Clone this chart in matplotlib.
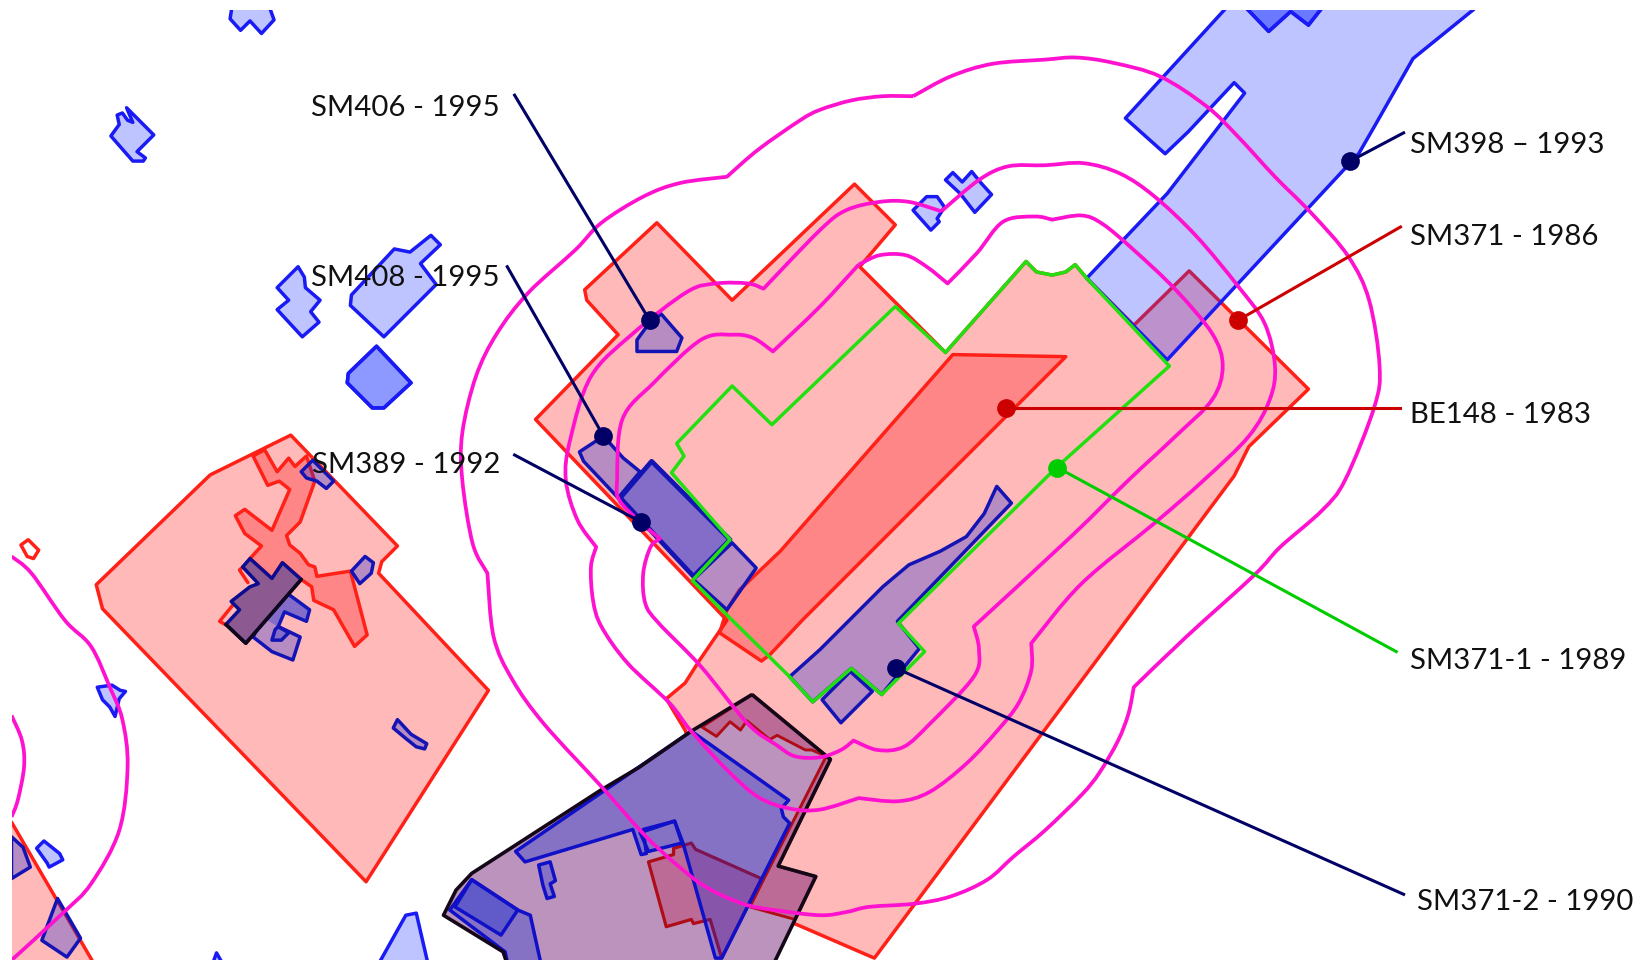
"""Site map: overlapping permit areas, contour lines and labelled leaders."""

import matplotlib
matplotlib.use("Agg")
import matplotlib.pyplot as plt
from matplotlib.patches import PathPatch
from matplotlib.path import Path

plt.rcParams["font.family"] = ["Lato", "DejaVu Sans"]

# Map geometry (x, y in picture units, y going down)
RED_AREAS = [
    [(628, 213), (559, 277), (561, 287), (591, 320), (512, 401), (695, 593), (669, 631), (655, 653),
     (637, 668), (655, 698), (717, 867), (762, 884), (836, 916), (1180, 455), (1194, 427), (1251, 372),
     (1137, 259), (1084, 311), (1039, 266), (1028, 253), (1019, 260), (1006, 263), (991, 260), (981, 250),
     (904, 337), (822, 255), (856, 215), (817, 176), (700, 287)],
    [(278, 416), (201, 454), (92, 559), (98, 582), (350, 843), (467, 660), (362, 548), (365, 537), (380, 522)],
    [(11, 786), (92, 925), (0, 925), (0, 786)],
]
RED_DARK_AREAS = [
    [(911, 339), (1019, 341), (767, 593), (736, 626), (728, 632), (688, 605), (695, 583), (707, 564), (746, 527)],
    [(242, 436), (253, 430), (265, 451), (276, 438), (282, 446), (293, 436), (301, 460), (287, 499), (274, 512),
     (277, 521), (287, 529), (295, 540), (301, 542), (303, 551), (335, 546), (351, 607), (339, 618), (319, 583),
     (300, 574), (298, 561), (288, 554), (270, 538), (260, 553), (239, 534), (250, 522), (234, 510), (225, 493),
     (234, 487), (260, 507), (277, 468), (267, 460), (256, 464)],
]
RED_SMALL = [(20, 521), (27, 516), (37, 526), (32, 534), (26, 532)]
RED_TICKS = [
    [(223, 578), (210, 594), (217, 598)],
    [(232, 542), (229, 545), (237, 557)],
]

BLUE_ON_WHITE = [
    [(222, 5), (220, 18), (230, 29), (239, 20), (250, 32), (262, 19), (257, 5)],
    [(106, 130), (114, 119), (112, 110), (117, 108), (122, 115), (127, 117), (121, 103), (147, 129), (131, 145),
     (139, 151), (137, 154), (127, 154)],
    [(285, 255), (291, 265), (292, 275), (306, 287), (297, 298), (305, 308), (289, 322), (265, 296), (276, 287),
     (265, 275)],
    [(412, 225), (421, 234), (402, 252), (417, 272), (367, 322), (335, 292), (336, 282), (377, 238), (392, 241)],
    [(1180, -5), (1171, 9), (1076, 113), (1114, 147), (1136, 126), (1180, 79), (1190, 89), (1116, 185), (1039, 266),
     (1116, 344), (1299, 147), (1314, 121), (1351, 56), (1409, 9), (1420, -5)],
    [(873, 201), (886, 188), (896, 188), (903, 198), (896, 209), (898, 212), (890, 220)],
    [(904, 172), (911, 165), (920, 174), (929, 164), (938, 175), (948, 186), (932, 203), (918, 185)],
    [(93, 657), (107, 655), (115, 660), (120, 661), (114, 668), (110, 685), (105, 676), (98, 669)],
    [(35, 811), (42, 804), (57, 816), (60, 822), (47, 829), (45, 825)],
    [(360, 925), (388, 875), (398, 873), (410, 925)],
    [(202, 925), (207, 911), (215, 925)],
]
BLUE_DOUBLE = [
    [(360, 331), (393, 366), (367, 390), (356, 390), (332, 366), (333, 357)],
    [(1189, 5), (1213, 30), (1234, 11), (1251, 24), (1266, 5)],
]
BLUE_ON_RED = [
    [(632, 300), (652, 323), (647, 336), (609, 336), (609, 325), (617, 314)],
    [(577, 417), (554, 432), (558, 441), (591, 476), (612, 451), (596, 438)],
    [(700, 519), (723, 543), (695, 583), (663, 554)],
    [(953, 465), (967, 481), (858, 594), (879, 620), (843, 664), (814, 639), (777, 671), (755, 647), (784, 621),
     (844, 561), (869, 540), (899, 527), (924, 513), (941, 491)],
    [(786, 669), (813, 642), (834, 661), (804, 691)],
    [(336, 546), (349, 532), (357, 538), (355, 548), (344, 558)],
    [(288, 451), (299, 440), (319, 460), (312, 467), (303, 460), (293, 457)],
    [(277, 569), (296, 583), (293, 594), (272, 585), (266, 599), (287, 609), (280, 631), (260, 623), (242, 609),
     (262, 570)],
    [(263, 602), (266, 599), (276, 605), (269, 612), (260, 612)],
    [(376, 696), (380, 688), (393, 702), (408, 711), (406, 716), (398, 714), (388, 706)],
    [(11, 800), (22, 810), (29, 829), (11, 840)],
    [(55, 859), (77, 897), (64, 915), (40, 899)],
]
BLUE_ON_RED_DOUBLE = [
    [(623, 441), (698, 516), (663, 551), (593, 476)],
]
BLUE_INNER_FILL = [(277, 569), (296, 583), (293, 594), (272, 585), (266, 599), (252, 591), (262, 570)]

BLACK_AREA = [(719, 664), (661, 699), (612, 733), (575, 755), (451, 835), (436, 851), (424, 875), (481, 910),
              (486, 925), (738, 925), (780, 838), (744, 828), (794, 726)]
BLACK_TOP = [(719, 664), (671, 695), (685, 704), (698, 690), (708, 698), (714, 689), (736, 707), (743, 703),
             (770, 717), (776, 717), (790, 723), (794, 726)]
BLACK_EDGE_RED = [(790, 723), (794, 726), (744, 828), (780, 838), (760, 879), (717, 867), (730, 841)]
BLACK_RED = [(620, 824), (644, 817), (644, 811), (661, 806), (665, 812), (728, 840), (690, 916), (679, 879),
             (663, 883), (661, 879), (637, 886)]
BLACK_BLUE = [
    [(493, 814), (661, 699), (754, 765), (747, 773), (749, 781), (755, 787), (690, 916), (684, 916), (653, 806),
     (645, 785), (615, 793), (618, 816), (613, 817), (605, 793), (502, 824)],
    [(451, 841), (495, 870), (507, 875), (518, 925), (486, 925), (483, 910), (430, 870)],
]
BLACK_BLUE_DOUBLE = [
    [(612, 796), (645, 785), (652, 806), (620, 814)],
    [(451, 841), (495, 870), (479, 894), (435, 867)],
]
BLACK_BLUE_SMALL = [(515, 827), (526, 824), (531, 842), (526, 845), (530, 857), (523, 859), (519, 846)]
DARK_BLOCK = [(239, 534), (260, 553), (270, 538), (288, 554), (235, 615), (216, 597), (229, 583), (221, 575),
              (239, 561), (247, 558), (232, 542)]
DARK_BLOCK_BLACK = [(288, 554), (235, 615), (216, 597)]

GREEN_OUTLINE = [(981, 250), (991, 260), (1006, 263), (1019, 260), (1028, 253), (1039, 266), (1118, 350),
                 (1011, 446), (859, 596), (884, 623), (843, 664), (814, 639), (777, 671), (755, 647), (695, 588),
                 (662, 555), (698, 516), (642, 452), (654, 436), (647, 424), (700, 369), (738, 406), (856, 293),
                 (904, 337)]

CONTOUR_OUTER = [(873, 92), (909, 73), (949, 61), (999, 57), (1029, 55), (1064, 60), (1109, 73), (1154, 102),
                 (1184, 131), (1219, 169), (1254, 204), (1289, 245), (1309, 287), (1319, 350), (1314, 389),
                 (1286, 459), (1264, 488), (1224, 523), (1199, 550), (1134, 609), (1084, 657), (1079, 682),
                 (1069, 708), (1051, 739), (1034, 760), (999, 794), (969, 819), (944, 841), (909, 857), (874, 864),
                 (831, 867), (809, 872), (784, 875), (740, 870), (710, 864), (675, 848), (645, 825), (615, 797),
                 (575, 752), (520, 692), (490, 650), (472, 609), (466, 548), (452, 520), (442, 459), (442, 414),
                 (455, 360), (475, 319), (505, 280), (550, 239), (575, 213), (615, 188), (650, 175), (695, 169),
                 (725, 143), (765, 115), (784, 105), (814, 96), (844, 92), (873, 92)]
CONTOUR_MIDDLE = [(900, 202), (936, 172), (964, 159), (999, 158), (1036, 156), (1071, 166), (1104, 188), (1144, 226),
                  (1184, 274), (1209, 309), (1219, 350), (1214, 382), (1194, 417), (1151, 459), (1104, 500),
                  (1034, 558), (986, 615), (986, 641), (974, 672), (954, 698), (924, 730), (889, 757), (859, 766),
                  (821, 763), (784, 774), (755, 773), (725, 762), (695, 736), (660, 698), (640, 672), (600, 634),
                  (575, 599), (567, 574), (565, 542), (570, 523), (552, 497), (541, 459), (545, 421), (565, 360),
                  (605, 319), (657, 279), (685, 271), (715, 271), (730, 276), (784, 220), (809, 201), (841, 193),
                  (869, 193), (900, 202)]
CONTOUR_INNER = [(821, 253), (841, 244), (866, 244), (886, 255), (906, 271), (934, 242), (959, 212), (989, 207),
                 (1006, 210), (1034, 206), (1054, 214), (1084, 239), (1124, 277), (1159, 319), (1169, 350),
                 (1159, 382), (1124, 417), (1079, 459), (1024, 513), (931, 599), (936, 621), (931, 647), (889, 692),
                 (864, 714), (839, 717), (816, 708), (804, 717), (784, 724), (760, 723), (742, 712), (715, 692),
                 (670, 637), (630, 596), (617, 577), (615, 548), (622, 523), (631, 515), (612, 499), (592, 478),
                 (590, 459), (595, 401), (625, 366), (670, 325), (700, 320), (720, 323), (739, 336), (784, 293),
                 (821, 253)]
CONTOUR_LEFT = [(11, 532), (30, 548), (62, 593), (87, 618), (105, 657), (117, 688), (122, 733), (114, 794), (87, 845),
                (60, 873), (11, 918)]
CONTOUR_FAR_LEFT = [(11, 684), (21, 708), (23, 733), (17, 765), (11, 781)]
# where the contours have a real kink instead of a bend
CONTOUR_KINKS = {(873, 92), (695, 169), (1084, 657), (466, 548), (900, 202), (986, 615), (570, 523), (730, 276),
                 (821, 763), (906, 271), (1006, 210), (931, 599), (816, 708), (631, 515), (739, 336), (821, 253)}

# Leaders and labels
LABELS = ["SM406 - 1995", "SM408 - 1995", "SM389 - 1992", "SM398 – 1993", "SM371 - 1986", "BE148 - 1983",
          "SM371-1 - 1989", "SM371-2 - 1990"]
LABEL_X = [478, 478, 478, 1348, 1348, 1348, 1348, 1355]
LABEL_Y = [103, 266, 445, 139, 227, 397, 632, 862]
LABEL_HA = ["right", "right", "right", "left", "left", "left", "left", "left"]
LEADER_START = [(492, 91), (485, 255), (492, 435), (1342, 127), (1339, 217), (1339, 390), (1335, 623), (1342, 855)]
LEADER_END = [(621, 306), (577, 417), (613, 499), (1291, 154), (1184, 306), (962, 390), (1011, 447), (857, 639)]
LEADER_COLORS = ["#000066", "#000066", "#000066", "#000066", "#CC0000", "#CC0000", "#00CC00", "#000066"]

W, H = 1568, 917.8
LEFT, TOP = 11, 9.5

RED_FACE = (1.0, 0.0, 0.0, 0.275)
BLUE_FACE = (0.05, 0.15, 1.0, 0.27)
BLUE_FACE_ON_MAUVE = (0.05, 0.15, 0.85, 0.3)
MAUVE = "#BB93BC"
DARK_OVERLAP = (0.75, 0.1, 0.3, 0.33)
RED_LINE = "#FF2018"
DARK_RED_LINE = "#B00C18"
BLUE_LINE = "#1A1AF5"
NAVY_LINE = "#1414B4"
MAGENTA = "#FF12CF"
GREEN = "#22E010"
LW = 2.5


def draw(ax, pts, face="none", edge=None, lw=LW, z=2):
    xs, ys = zip(*pts)
    ax.fill(xs, ys, facecolor=face, edgecolor=edge or "none", linewidth=lw, joinstyle="round", zorder=z)


def segment(ax, pts, color, lw=LW, z=8):
    xs, ys = zip(*pts)
    ax.plot(xs, ys, color=color, linewidth=lw, solid_joinstyle="round", solid_capstyle="round", zorder=z)


def contour_path(pts):
    """Bezier path through the read points, bending everywhere but at the kinks."""
    verts = [pts[0]]
    codes = [Path.MOVETO]
    for i in range(len(pts) - 1):
        p0, p1, p2, p3 = pts[max(i - 1, 0)], pts[i], pts[i + 1], pts[min(i + 2, len(pts) - 1)]
        if p1 in CONTOUR_KINKS:
            p0 = p1
        if p2 in CONTOUR_KINKS:
            p3 = p2
        c1 = (p1[0] + (p2[0] - p0[0]) / 6, p1[1] + (p2[1] - p0[1]) / 6)
        c2 = (p2[0] - (p3[0] - p1[0]) / 6, p2[1] - (p3[1] - p1[1]) / 6)
        verts += [c1, c2, p2]
        codes += [Path.CURVE4, Path.CURVE4, Path.CURVE4]
    return Path(verts, codes)


fig = plt.figure(figsize=(16.4, 9.6), dpi=100)

# the map itself stops short of the left and top edge
ax = fig.add_axes([LEFT / W, 0, 1 - LEFT / W, 1 - TOP / H])
ax.set_xlim(LEFT, W)
ax.set_ylim(H, TOP)
ax.axis("off")

for area in RED_AREAS:
    draw(ax, area, RED_FACE, RED_LINE, z=2)
draw(ax, RED_SMALL, "none", RED_LINE, z=2)
for area in RED_DARK_AREAS:
    draw(ax, area, RED_FACE, RED_LINE, z=3)
for tick in RED_TICKS:
    segment(ax, tick, RED_LINE, z=3)

for area in BLUE_ON_WHITE:
    draw(ax, area, BLUE_FACE, BLUE_LINE, z=3)
for area in BLUE_DOUBLE:
    draw(ax, area, BLUE_FACE, BLUE_LINE, z=3)
    draw(ax, area, BLUE_FACE, BLUE_LINE, z=3)
for area in BLUE_ON_RED:
    draw(ax, area, BLUE_FACE_ON_MAUVE, NAVY_LINE, z=4)
draw(ax, BLUE_INNER_FILL, BLUE_FACE_ON_MAUVE, None, z=4)
for area in BLUE_ON_RED_DOUBLE:
    draw(ax, area, BLUE_FACE_ON_MAUVE, None, z=4)
    draw(ax, area, BLUE_FACE_ON_MAUVE, NAVY_LINE, lw=3.4, z=4)

draw(ax, DARK_BLOCK, "#8C5A90", "#0C0C90", z=5)
segment(ax, DARK_BLOCK_BLACK, "#100818", z=5)

draw(ax, BLACK_AREA, MAUVE, None, z=5)
draw(ax, BLACK_TOP, DARK_OVERLAP, DARK_RED_LINE, lw=2.1, z=6)
draw(ax, BLACK_EDGE_RED, DARK_OVERLAP, DARK_RED_LINE, lw=2.1, z=6)
draw(ax, BLACK_RED, DARK_OVERLAP, DARK_RED_LINE, lw=2.3, z=6)
for area in BLACK_BLUE:
    draw(ax, area, BLUE_FACE_ON_MAUVE, "#1010C8", z=6)
for area in BLACK_BLUE_DOUBLE:
    draw(ax, area, BLUE_FACE_ON_MAUVE, "#1010C8", z=6)
draw(ax, BLACK_BLUE_SMALL, BLUE_FACE_ON_MAUVE, "#1010C8", z=6)
draw(ax, BLACK_AREA, "none", "#140818", lw=2.6, z=7)

draw(ax, GREEN_OUTLINE, "none", GREEN, z=8)

for line in [CONTOUR_OUTER, CONTOUR_MIDDLE, CONTOUR_INNER, CONTOUR_LEFT, CONTOUR_FAR_LEFT]:
    ax.add_patch(PathPatch(contour_path(line), facecolor="none", edgecolor=MAGENTA, linewidth=2.7,
                           joinstyle="round", zorder=9))

# leaders and labels run over the whole picture
top = fig.add_axes([0, 0, 1, 1])
top.set_xlim(0, W)
top.set_ylim(H, 0)
top.axis("off")
top.patch.set_alpha(0)

for start, end, color in zip(LEADER_START, LEADER_END, LEADER_COLORS):
    top.plot([start[0], end[0]], [start[1], end[1]], color=color, linewidth=2.2, zorder=10)
    top.plot(end[0], end[1], "o", color=color, markersize=13.5, markeredgewidth=0, zorder=11)

for label, x, y, ha in zip(LABELS, LABEL_X, LABEL_Y, LABEL_HA):
    top.text(x, y, label, ha=ha, va="center", fontsize=21.2, color="#111111", zorder=12)

fig.savefig("out.png", dpi=100)
